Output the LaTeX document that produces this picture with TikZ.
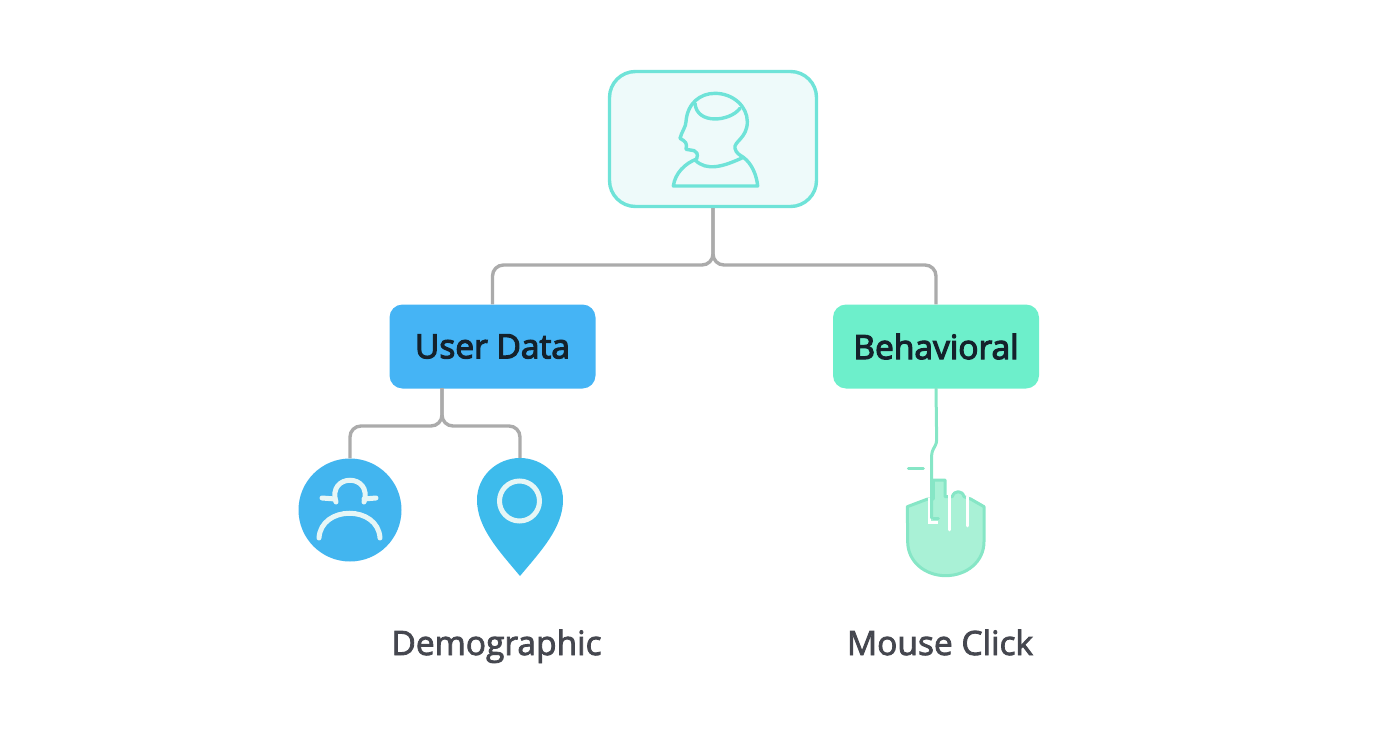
\documentclass[tikz,border=0pt]{standalone}
\usepackage{fontspec}
\setmainfont{Open Sans}
\newfontfamily\medfont{Open Sans}[RawFeature={embolden=3.5}]
\newfontfamily\capfont{Open Sans}[RawFeature={embolden=2.5}]
\definecolor{tealline}{HTML}{6FE3D8}
\definecolor{tealfill}{HTML}{EEFAFA}
\definecolor{userblue}{HTML}{45B4F5}
\definecolor{behavgreen}{HTML}{6DEFCB}
\definecolor{wiregray}{HTML}{ABABAB}
\definecolor{circblue}{HTML}{42B5EF}
\definecolor{pinblue}{HTML}{3DBBEC}
\definecolor{iconwhite}{HTML}{E6F6F6}
\definecolor{handfill}{HTML}{A9F1D6}
\definecolor{handline}{HTML}{86E6C6}
\definecolor{capgray}{HTML}{45474F}
\definecolor{boxtext}{HTML}{14212B}
\tikzset{
	box/.style={rounded corners=13,minimum width=206,minimum height=84,inner sep=0,text=boxtext,font=\medfont\fontsize{33.5}{33.5}\selectfont},
	wire/.style={draw=wiregray,line width=3.4,rounded corners=11},
	caption/.style={inner sep=0,anchor=base,text=capgray,font=\capfont\fontsize{33.5}{33.5}\selectfont},
	headline/.style={draw=tealline,line width=3.4,line join=round,line cap=round},
	iconline/.style={draw=iconwhite,line width=5,line cap=round},
	handstroke/.style={draw=handline,line width=3,line cap=round},
	handslit/.style={draw=white,line width=2.6,line cap=round}
}
\begin{document}
\begin{tikzpicture}[x=1pt,y=-1pt]
	\useasboundingbox (0,0) rectangle (1392,752);

	\node[draw=tealline,fill=tealfill,line width=3.4,rounded corners=26,minimum width=207,minimum height=135,inner sep=0] (head) at (713,139) {};
	\node[box,fill=userblue] (user) at (492.5,346.5) {User Data};
	\node[box,fill=behavgreen] (behav) at (936,346.5) {Behavioral};
	\node[circle,fill=circblue,minimum size=103,inner sep=0] (demo) at (350,510) {};
	\node[inner sep=0,minimum width=86,minimum height=118] (pin) at (520,517) {};
	\node[caption] (democap) at (496.5,655) {Demographic};
	\node[caption] (clickcap) at (940,655) {Mouse Click};

	% wires
	\coordinate (headbus) at (713,265);
	\coordinate (userout) at (442,388);
	\coordinate (userbus) at (442,426);
	\draw[wire] (head.south) -- (headbus) -- (headbus -| user.north) -- (user.north);
	\draw[wire] (head.south) -- (headbus) -- (headbus -| behav.north) -- (behav.north);
	\draw[wire] (userout) -- (userbus) -- (userbus -| demo.north) -- (demo.north);
	\draw[wire] (userout) -- (userbus) -- (userbus -| pin.north) -- (pin.north);

	% head icon
	\begin{scope}[shift={(600,60)},x=1pt/3,y=-1pt/3]
		\draw[headline] (290,297) .. controls (300,265) and (270,272) .. (258,268) .. controls (262,250) and (258,245) .. (240,235) .. controls (245,215) and (258,200) .. (258,185) .. controls (262,130) and (300,100) .. (345,100) .. controls (400,100) and (442,140) .. (442,185) .. controls (442,235) and (400,245) .. (405,265) .. controls (408,280) and (420,285) .. (430,292) .. controls (455,310) and (470,345) .. (473,378) -- (220,378) .. controls (225,340) and (255,310) .. (290,297);
		\draw[headline] (285,130) .. controls (290,195) and (390,185) .. (420,145);
		\draw[headline] (285,300) .. controls (320,335) and (370,320) .. (430,292);
	\end{scope}

	% person icon
	\draw[iconline] (322,498) -- (335,499);
	\draw[iconline] (364,499) -- (376,498);
	\draw[iconline] (336,502) .. controls (327,473) and (373,473) .. (364,502);
	\draw[iconline] (319,538) .. controls (321,505) and (378,505) .. (380,538);

	% map pin
	\fill[pinblue] (520,576) .. controls (500,552) and (477,528) .. (477,500) .. controls (477,476) and (497,458) .. (520,458) .. controls (543,458) and (563,476) .. (563,500) .. controls (563,528) and (540,552) .. (520,576) -- cycle;
	\draw[draw=iconwhite,line width=5] (519.5,501) circle (20);

	% hand icon
	\begin{scope}[shift={(880,385)},x=1pt/3,y=-1pt/3]
		\draw[draw=handline,fill=handfill,line width=3,line join=round] (82,365) -- (143,342) -- (160,342) -- (160,285) -- (195,285) -- (195,335) -- (217,335) .. controls (222,315) and (247,315) .. (252,335) -- (272,342) -- (312,365) -- (312,470) .. controls (312,530) and (260,572) .. (197,572) .. controls (135,572) and (83,530) .. (83,470) -- cycle;
		\fill[white] (145,340) rectangle (152,415);
		\fill[white] (145,409) -- (175,409) -- (175,416) -- (145,416) -- cycle;
		\draw[handslit] (208,325) -- (208,435);
		\draw[handslit] (262,335) -- (262,423);
		\draw[handstroke] (85,250) -- (130,250);
		\draw[handstroke] (160,400) -- (175,400);
	\end{scope}
	\draw[handstroke,rounded corners=3] (behav.south) -- (936.7,443) -- (931.7,452) -- (931.7,518);
\end{tikzpicture}
\end{document}
